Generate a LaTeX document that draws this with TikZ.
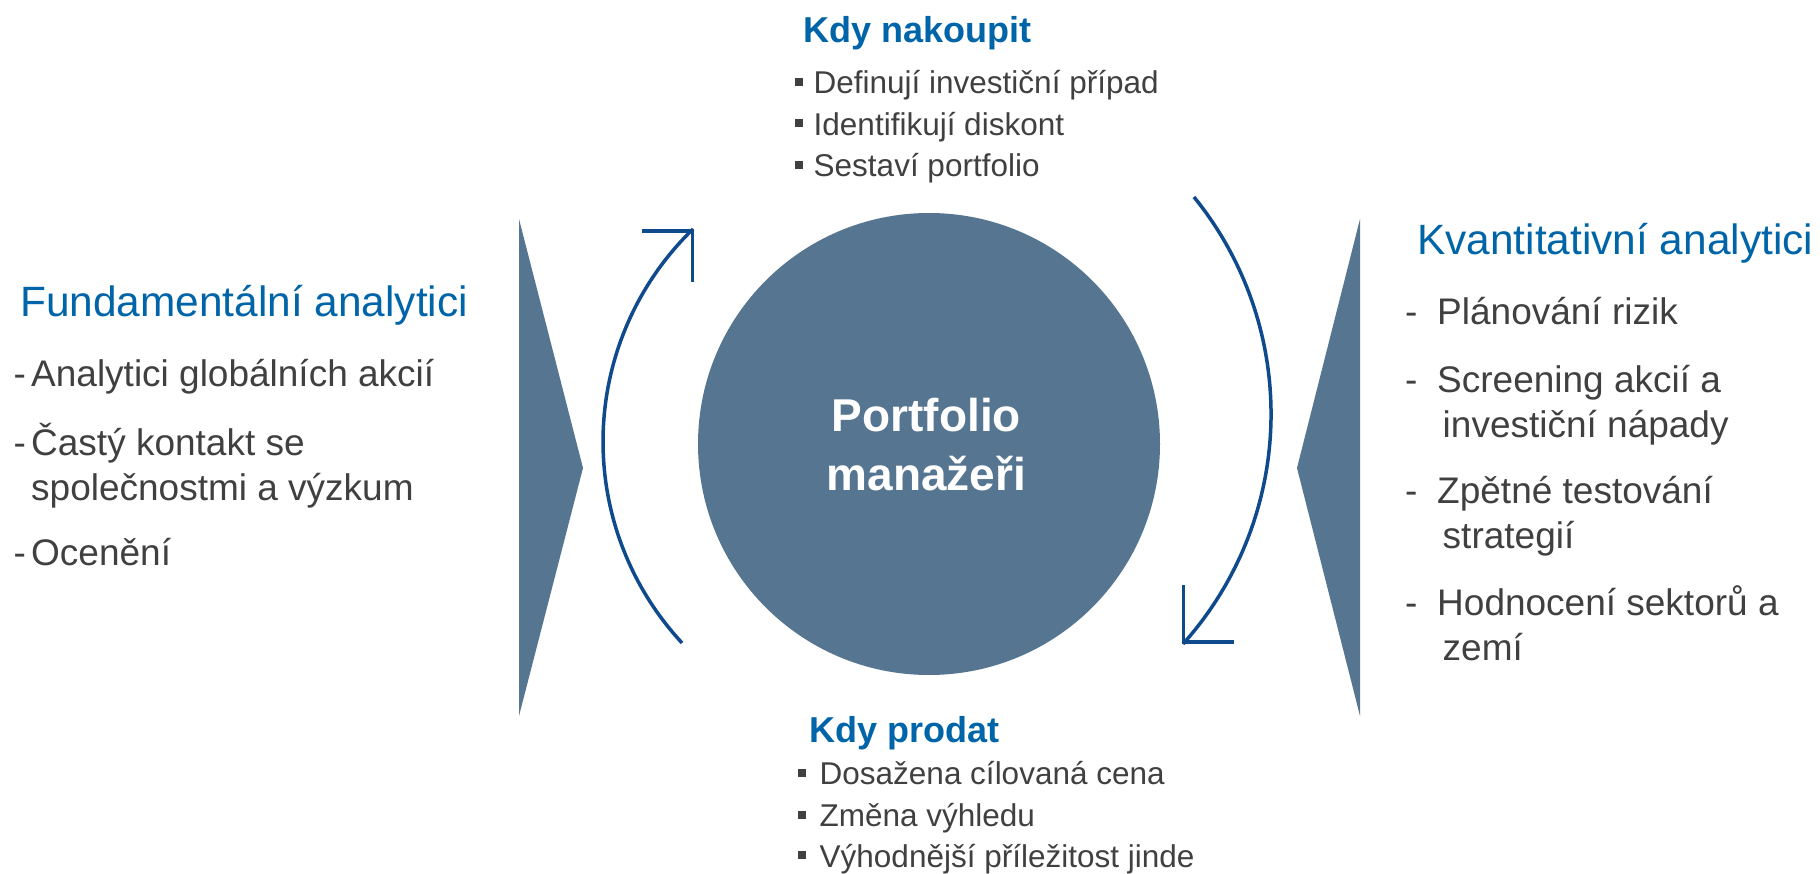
\documentclass[tikz,border=0pt]{standalone}
\usepackage{fontspec}
\setmainfont{Liberation Sans}
\usetikzlibrary{calc}
\definecolor{slate}{RGB}{86,117,144}
\definecolor{headblue}{RGB}{0,101,168}
\definecolor{txtgray}{RGB}{64,64,64}
\definecolor{arrowblue}{RGB}{14,74,140}
\tikzset{
  sidehead/.style={anchor=base west, inner sep=0pt, text=headblue, font=\fontsize{42.4}{50}\selectfont},
  sideitem/.style={anchor=base west, inner sep=0pt, text=txtgray, font=\fontsize{37}{45}\selectfont},
  midhead/.style={anchor=base west, inner sep=0pt, text=headblue, font=\bfseries\fontsize{36}{44}\selectfont},
  miditem/.style={anchor=base west, inner sep=0pt, text=txtgray, font=\fontsize{31.5}{38}\selectfont},
  sqbullet/.style={fill=txtgray, minimum size=8pt, inner sep=0pt, outer sep=0pt},
  circtext/.style={anchor=base, inner sep=0pt, text=white, font=\bfseries\fontsize{46}{56}\selectfont},
  cyclearrow/.style={draw=arrowblue, line width=3.5pt},
  wedge/.style={fill=slate},
}
\begin{document}
\begin{tikzpicture}[x=1pt,y=-1pt]
\useasboundingbox (0,0) rectangle (1820,874);

% side wedges
\fill[wedge] (519,219) -- (519,716) -- (583,468) -- cycle;
\fill[wedge] (1360,219) -- (1360,716) -- (1297,468) -- cycle;

% central circle
\node[circle, fill=slate, minimum size=462pt, inner sep=0pt, outer sep=0pt] (pm) at (929,444) {};
\node[circtext] (pm1) at (926.5,431) {Portfolio};
\node[circtext] (pm2) at (926.5,490) {manažeři};

% cycle arrows
\draw[cyclearrow, line join=round] plot[domain=137.15:225.9, samples=80]
  ({899.1+296.1*cos(\x)}, {441.6+296.1*sin(\x)});
\coordinate (ltip) at (692.5,231);
\draw[cyclearrow] ($(ltip)+(-51,0)$) -- (ltip) -- ($(ltip)+(0,51)$);

\draw[cyclearrow, line join=round] plot[domain=-39.1:41.9, samples=80]
  ({926.8+344.25*cos(\x)}, {414.07+344.25*sin(\x)});
\coordinate (rtip) at (1183.5,642);
\draw[cyclearrow] ($(rtip)+(0,-57)$) -- (rtip) -- ($(rtip)+(50,0)$);

% top block
\node[midhead] (buyh) at (803,43) {Kdy nakoupit};
\node[sqbullet] (tb1) at (799,82) {};
\node[sqbullet] (tb2) at (799,123.5) {};
\node[sqbullet] (tb3) at (799,165) {};
\node[miditem] (ti1) at (813.5,94) {Definují investiční případ};
\node[miditem] (ti2) at (813.5,135.5) {Identifikují diskont};
\node[miditem] (ti3) at (813.5,177) {Sestaví portfolio};

% bottom block
\node[midhead] (sellh) at (809,742) {Kdy prodat};
\node[sqbullet] (bb1) at (802,773) {};
\node[sqbullet] (bb2) at (802,814.5) {};
\node[sqbullet] (bb3) at (802,855) {};
\node[miditem] (bi1) at (819.5,784) {Dosažena cílovaná cena};
\node[miditem] (bi2) at (819.5,826.5) {Změna výhledu};
\node[miditem] (bi3) at (819.5,867) {Výhodnější příležitost jinde};

% left block
\node[sidehead] (lh) at (20,317) {Fundamentální analytici};
\node[sideitem] (ld1) at (13.4,387) {-};
\node[sideitem] (li1) at (31,387) {Analytici globálních akcií};
\node[sideitem] (ld2) at (13.4,455) {-};
\node[sideitem] (li2a) at (31,455) {Častý kontakt se};
\node[sideitem] (li2b) at (31,500) {společnostmi a výzkum};
\node[sideitem] (ld3) at (13.4,565) {-};
\node[sideitem] (li3) at (31,565) {Ocenění};

% right block
\node[sidehead] (rh) at (1417,255) {Kvantitativní analytici};
\node[sideitem] (rd1) at (1405,325) {-};
\node[sideitem] (ri1) at (1437,325) {Plánování rizik};
\node[sideitem] (rd2) at (1405,392) {-};
\node[sideitem] (ri2a) at (1437,392) {Screening akcií a};
\node[sideitem] (ri2b) at (1442.5,437) {investiční nápady};
\node[sideitem] (rd3) at (1405,503) {-};
\node[sideitem] (ri3a) at (1437,503) {Zpětné testování};
\node[sideitem] (ri3b) at (1442.5,548) {strategií};
\node[sideitem] (rd4) at (1405,615) {-};
\node[sideitem] (ri4a) at (1437,615) {Hodnocení sektorů a};
\node[sideitem] (ri4b) at (1442.5,660) {zemí};
\end{tikzpicture}
\end{document}
